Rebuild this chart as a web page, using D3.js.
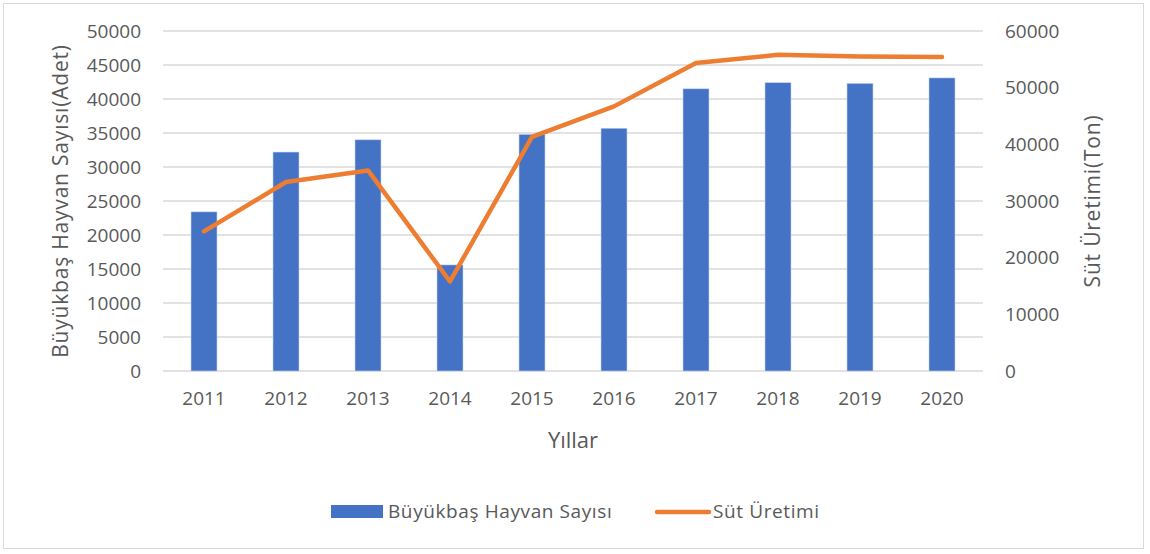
<!DOCTYPE html>
<html>
<head>
<meta charset="utf-8">
<script src="https://cdn.jsdelivr.net/npm/d3@7"></script>
<style>
  body { margin: 0; background: #fff; }
  text { font-family: "Open Sans", sans-serif; fill: #595959; }
</style>
</head>
<body>
<script>
// chart data
var years = ["2011","2012","2013","2014","2015","2016","2017","2018","2019","2020"];
var hayvanSayisi = [23400, 32200, 34000, 15600, 34800, 35700, 41500, 42400, 42300, 43100];
var sutUretimi = [24650, 33350, 35400, 15800, 41300, 46700, 54350, 55800, 55500, 55400];
var leftTicks = [0, 5000, 10000, 15000, 20000, 25000, 30000, 35000, 40000, 45000, 50000];
var rightTicks = [0, 10000, 20000, 30000, 40000, 50000, 60000];

var width = 1150, height = 554;
var plot = {left: 163, right: 983, top: 31, bottom: 371};

var svg = d3.select("body").append("svg")
    .attr("width", width)
    .attr("height", height);

// outer frame
svg.append("rect")
    .attr("x", 3.5).attr("y", 3.5)
    .attr("width", 1140).attr("height", 545)
    .attr("fill", "#fff")
    .attr("stroke", "#d9d9d9");

var x = d3.scaleBand()
    .domain(years)
    .range([plot.left, plot.right]);

var yLeft = d3.scaleLinear().domain([0, 50000]).range([plot.bottom, plot.top]);
var yRight = d3.scaleLinear().domain([0, 60000]).range([plot.bottom, plot.top]);

// gridlines
svg.append("g")
    .selectAll("line")
    .data(leftTicks)
    .enter().append("line")
    .attr("x1", plot.left).attr("x2", plot.right)
    .attr("y1", function(d){ return yLeft(d); })
    .attr("y2", function(d){ return yLeft(d); })
    .attr("stroke", "#d9d9d9")
    .attr("stroke-width", 1.3);

function styleAxis(g){
    g.select(".domain").remove();
    g.selectAll("text")
        .attr("font-size", 19)
        .style("font-family", "'Open Sans', sans-serif")
        .attr("fill", "#595959");
}

// left axis
svg.append("g")
    .attr("transform", "translate(" + (plot.left - 22) + ",0)")
    .call(d3.axisLeft(yLeft).tickValues(leftTicks).tickSize(0).tickPadding(0).tickFormat(d3.format("d")))
    .call(styleAxis);

// right axis
svg.append("g")
    .attr("transform", "translate(" + (plot.right + 22) + ",0)")
    .call(d3.axisRight(yRight).tickValues(rightTicks).tickSize(0).tickPadding(0).tickFormat(d3.format("d")))
    .call(styleAxis);

// x axis
svg.append("g")
    .attr("transform", "translate(0," + (plot.bottom + 20) + ")")
    .call(d3.axisBottom(x).tickSize(0).tickPadding(0))
    .call(styleAxis);

// bars
svg.append("g")
    .selectAll("rect")
    .data(hayvanSayisi)
    .enter().append("rect")
    .attr("x", function(d, i){ return x(years[i]) + x.bandwidth() / 2 - 13; })
    .attr("y", function(d){ return yLeft(d); })
    .attr("width", 26)
    .attr("height", function(d){ return plot.bottom - yLeft(d); })
    .attr("fill", "#4472c4")
    .attr("stroke", "#c5d3ee")
    .attr("stroke-width", 0.6);

// line
var line = d3.line()
    .x(function(d, i){ return x(years[i]) + x.bandwidth() / 2; })
    .y(function(d){ return yRight(d); });

svg.append("path")
    .datum(sutUretimi)
    .attr("d", line)
    .attr("fill", "none")
    .attr("stroke", "#ed7d31")
    .attr("stroke-width", 4.5)
    .attr("stroke-linecap", "round")
    .attr("stroke-linejoin", "round");

// axis titles
svg.append("text")
    .attr("transform", "translate(68," + ((plot.top + plot.bottom) / 2) + ") rotate(-90)")
    .attr("text-anchor", "middle")
    .attr("font-size", 21)
    .attr("letter-spacing", 0.8)
    .text("Büyükbaş Hayvan Sayısı(Adet)");

svg.append("text")
    .attr("transform", "translate(1100," + ((plot.top + plot.bottom) / 2) + ") rotate(-90)")
    .attr("text-anchor", "middle")
    .attr("font-size", 21)
    .attr("letter-spacing", 0.8)
    .text("Süt Üretimi(Ton)");

svg.append("text")
    .attr("x", (plot.left + plot.right) / 2)
    .attr("y", 448)
    .attr("text-anchor", "middle")
    .attr("font-size", 22)
    .text("Yıllar");

// legend
var legend = svg.append("g");
legend.append("rect")
    .attr("x", 331).attr("y", 505)
    .attr("width", 52).attr("height", 13)
    .attr("fill", "#4472c4");
legend.append("text")
    .attr("x", 388).attr("y", 518)
    .attr("font-size", 19)
    .attr("letter-spacing", 0.6)
    .text("Büyükbaş Hayvan Sayısı");
legend.append("line")
    .attr("x1", 657).attr("x2", 709)
    .attr("y1", 512).attr("y2", 512)
    .attr("stroke", "#ed7d31")
    .attr("stroke-width", 4.5)
    .attr("stroke-linecap", "round");
legend.append("text")
    .attr("x", 713).attr("y", 518)
    .attr("font-size", 19)
    .attr("letter-spacing", 0.6)
    .text("Süt Üretimi");
</script>
</body>
</html>
